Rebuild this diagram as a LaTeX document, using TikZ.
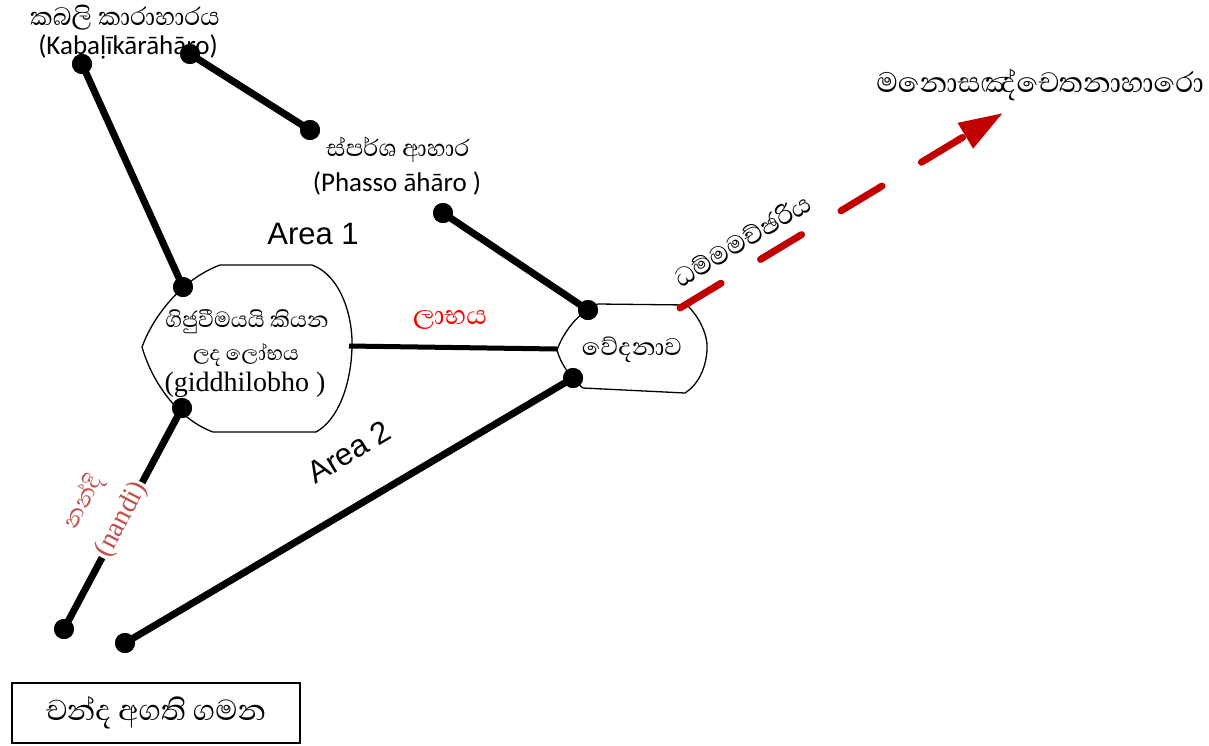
\documentclass[tikz,border=0pt]{standalone}
\usepackage{fontspec}
\newfontfamily\sinhfont[Script=Sinhala]{Abhaya Libre}
\newfontfamily\calib{Carlito}
\newfontfamily\arialf{Liberation Sans}
\newfontfamily\timesf{Liberation Serif}
\usetikzlibrary{arrows.meta}
\definecolor{darkred}{HTML}{C00000}
\definecolor{nandired}{HTML}{C0504D}
\newcommand{\sz}[1]{\fontsize{#1}{#1}\selectfont}
\begin{document}
\begin{tikzpicture}[x=1pt,y=-1pt,
  dot/.style={circle,fill=black,inner sep=0pt,minimum size=20pt},
  heavy/.style={line width=7pt},
  outline/.style={line width=1.3pt},
  txt/.style={inner sep=0pt,anchor=center},
  sin/.style={txt,font=\sinhfont\sz{#1}},
  sin/.default=28,
  lat/.style={txt,font=\calib\sz{27}},
  ser/.style={txt,font=\timesf\sz{28}},
  area/.style={txt,font=\arialf\sz{31}}]
\useasboundingbox (0,0) rectangle (1209,745);

% texts (drawn first, dots lie over them)
\node[sin=32] (t1) at (125,18) {කබලි කාරාහාරය};
\node[lat] (t2) at (128,47) {(Kabaḷīkārāhāro)};
\node[sin=30] (t3) at (398,150) {ස්පර්ශ ආහාර};
\node[lat] (t4) at (397,183) {(Phasso āhāro )};
\node[area] (a1) at (313,234) {Area 1};
\node[sin=28] (t5) at (247,322) {ගිජුවීමයයි කියන};
\node[sin=26] (t6) at (246,355) {ලද ලෝභය};
\node[ser] (t7) at (245,385) {(giddhilobho )};
\node[sin=34,text=red] (t8) at (450,320) {ලාභය};
\node[sin=31] (t9) at (632,350) {වේදනාව};
\node[sin=33,rotate=31] (t10) at (742,240) {ධම්මමච්ඡරිය};
\node[sin=36] (t11) at (1040,85) {මනොසඤ්චෙතනාහාරො};
\node[area,rotate=31] (a2) at (349,452) {Area 2};
\node[sin=29,text=nandired,rotate=62] (t12) at (84,502) {නන්දි};

% shapes
\draw[outline] (220,265) -- (312,265) .. controls (340,275) and (353,315) .. (352,347)
  .. controls (351,385) and (338,420) .. (316,432) -- (213,432)
  .. controls (180,420) and (153,385) .. (142,347)
  .. controls (155,312) and (185,278) .. (220,265) -- cycle;
\draw[outline] (598,304) -- (687,305) .. controls (700,318) and (708,335) .. (707,350)
  .. controls (706,368) and (698,385) .. (685,393) -- (583,388)
  .. controls (570,378) and (560,362) .. (557,350)
  .. controls (563,333) and (578,312) .. (598,304) -- cycle;
\coordinate (lobhaR) at (349,346);
\coordinate (vedL) at (557,349);

% dots
\node[dot] (d1) at (82,64) {};
\node[dot] (d2) at (190,54) {};
\node[dot] (d3) at (310,130) {};
\node[dot] (d4) at (443,213) {};
\node[dot] (d5) at (588,310) {};
\node[dot] (d6) at (183,287) {};
\node[dot] (d7) at (182,408) {};
\node[dot] (d8) at (573,378) {};
\node[dot] (d9) at (64,629) {};
\node[dot] (d10) at (125,643) {};

% connectors
\draw[heavy] (d1.center) -- (d6.center);
\draw[heavy] (d2.center) -- (d3.center);
\draw[heavy] (d4.center) -- (d5.center);
\draw[heavy] (d7.center) -- (d9.center);
\draw[heavy] (d10.center) -- (d8.center);
\draw[line width=5pt] (lobhaR) -- (vedL);

% redraw dots on top
\foreach \d in {d1,d2,d3,d4,d5,d6,d7,d8,d9,d10} \fill (\d) circle (10pt);

% red dashed arrow
\coordinate (arS) at (680,308);
\coordinate (arE) at (1003,113);
\draw[darkred, line width=7pt, dash pattern=on 48pt off 46pt, line cap=round,
  -{Triangle[length=44pt,width=28pt]}] (arS) -- (arE);

% label breaking the nandi connector
\node[ser,text=nandired,rotate=62,fill=white,inner sep=2pt] (t13) at (122,520) {(nandi)};

% box
\node[sin=37,draw,line width=2pt,minimum width=288pt,minimum height=60pt] (box) at (156,713) {චන්ද අගති ගමන};
\end{tikzpicture}
\end{document}
